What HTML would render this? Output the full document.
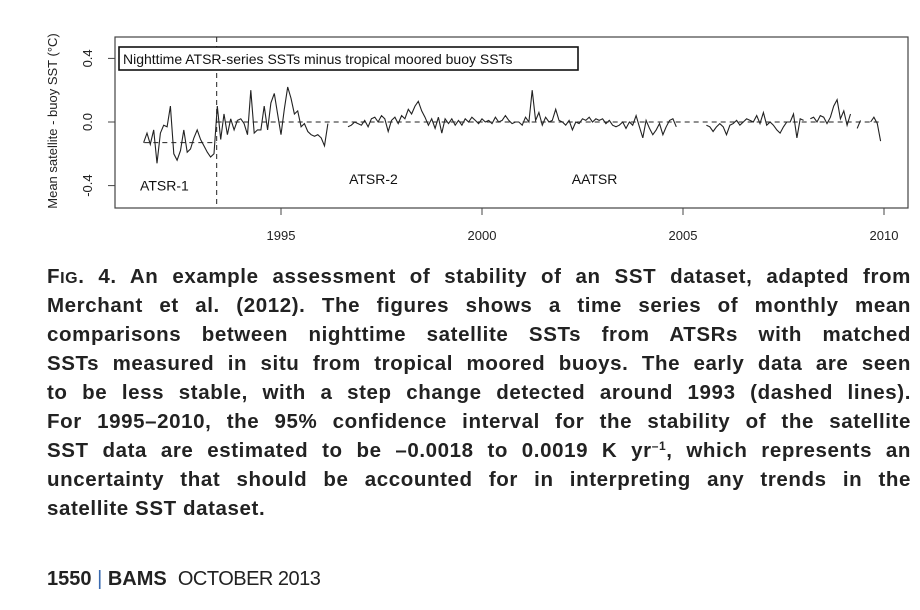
<!DOCTYPE html>
<html><head><meta charset="utf-8">
<style>
body{margin:0;background:#fff;width:920px;height:610px;overflow:hidden;position:relative;font-family:"Liberation Sans",sans-serif}
#chart{position:absolute;left:0;top:0}
.cap{position:absolute;left:47px;width:864px;font-weight:bold;font-size:20.5px;letter-spacing:0.6px;color:#222;line-height:29px}
.cap div{text-align:justify;text-align-last:justify;white-space:nowrap;height:29px}
.cap div.last{text-align-last:left}
.sc{font-size:16px}
sup{font-size:12px;line-height:0;vertical-align:7px}
.foot{position:absolute;left:47px;top:568px;font-size:20px;color:#222;white-space:nowrap}
</style></head><body>
<svg id="chart" width="920" height="260" xmlns="http://www.w3.org/2000/svg"></svg>
<div class="cap" style="top:262px">
<div>F<span class="sc">IG</span>. 4. An example assessment of stability of an SST dataset, adapted from</div>
<div>Merchant et al. (2012). The figures shows a time series of monthly mean</div>
<div>comparisons between nighttime satellite SSTs from ATSRs with matched</div>
<div>SSTs measured in situ from tropical moored buoys. The early data are seen</div>
<div>to be less stable, with a step change detected around 1993 (dashed lines).</div>
<div>For 1995–2010, the 95% confidence interval for the stability of the satellite</div>
<div>SST data are estimated to be –0.0018 to 0.0019 K yr<sup>–1</sup>, which represents an</div>
<div>uncertainty that should be accounted for in interpreting any trends in the</div>
<div class="last">satellite SST dataset.</div>
</div>
<div class="foot"><b style="font-family:'Liberation Sans Narrow','Liberation Sans',sans-serif">1550</b> <span style="color:#3a6ab0">|</span> <b style="font-family:'Liberation Sans Narrow','Liberation Sans',sans-serif">BAMS</b> &nbsp;<span style="font-weight:300;letter-spacing:-0.5px">OCTOBER 2013</span></div>
<script>
const startYear = 1991.583;
const values = [
-0.13,-0.07,-0.14,-0.05,-0.26,-0.07,-0.02,-0.03,0.10,-0.20,-0.24,-0.18,-0.05,-0.19,-0.17,-0.10,-0.05,-0.11,-0.15,-0.19,-0.22,-0.20,
0.10,-0.11,0.05,-0.08,0.02,-0.05,0.01,0.02,-0.01,-0.08,0.20,-0.07,-0.05,-0.05,0.10,-0.05,0.12,0.18,0.05,-0.08,0.08,0.22,0.15,0.05,0.07,-0.03,-0.01,-0.06,-0.08,-0.09,-0.08,-0.10,-0.15,-0.01,
null,null,null,null,null,
-0.03,-0.02,0.00,-0.01,
-0.02,0.01,-0.03,0.02,0.03,0.00,0.04,0.02,-0.06,0.01,0.03,-0.01,
0.04,0.02,0.08,0.05,0.10,0.13,0.07,0.03,-0.02,0.02,-0.04,0.03,
-0.07,0.02,-0.01,0.02,-0.02,0.01,-0.02,0.02,0.00,0.03,0.01,-0.01,
0.02,0.00,0.01,-0.01,0.03,0.00,0.01,0.04,0.01,-0.01,0.00,0.00,
-0.02,0.03,0.00,0.20,0.01,0.06,-0.02,0.03,0.00,0.01,0.08,0.01,
0.00,-0.02,0.01,-0.05,0.00,-0.01,0.02,0.01,0.03,0.00,0.02,0.01,
0.02,-0.01,0.01,-0.02,-0.03,-0.02,0.00,-0.04,0.00,-0.02,0.04,-0.03,
-0.10,0.01,-0.04,-0.08,-0.05,-0.01,-0.08,-0.03,0.01,0.02,-0.03,null,
null,null,null,null,null,null,null,-0.02,-0.03,-0.06,-0.03,-0.01,
-0.03,-0.08,-0.02,-0.01,0.01,-0.02,0.00,0.02,0.01,0.00,0.04,-0.01,
0.06,-0.02,0.00,-0.02,-0.05,-0.07,-0.03,0.00,0.00,0.05,-0.10,0.02,
0.01,null,0.02,0.03,0.00,0.04,0.03,-0.01,0.03,0.10,0.14,0.02,
0.07,-0.02,0.05,null,-0.04,0.01,null,null,0.00,0.03,-0.01,-0.12
];
const xTicks = [1995,2000,2005,2010];
const yTicks = [-0.4,0.0,0.4];
const refSegments = [[1991.6,1993.4,-0.13],[1993.4,2009.9,0.0]];
const stepYear = 1993.4;
const regionLabels = [["ATSR-1",1992.1,-0.43],["ATSR-2",1997.3,-0.39],["AATSR",2002.8,-0.39]];

const X = y => 281 + (y-1995)*40.2;
const Y = v => 122 - v*159;
const svg = document.getElementById('chart');
const NS = 'http://www.w3.org/2000/svg';
function mk(tag, attrs){const e=document.createElementNS(NS,tag);for(const k in attrs)e.setAttribute(k,attrs[k]);svg.appendChild(e);return e;}

let e = mk('rect',{x:115,y:37,width:793,height:171,fill:'none',stroke:'#444','stroke-width':1.2});


xTicks.forEach(t=>{
  let l = mk('line',{x1:X(t),x2:X(t),y1:208,y2:215,stroke:'#444'});
  
  
  let tx = mk('text',{x:X(t),y:240,'text-anchor':'middle','font-size':13,fill:'#222'});
  tx.textContent=t;
  
  
});
yTicks.forEach(t=>{
  let l = mk('line',{x1:108,x2:115,y1:Y(t),y2:Y(t),stroke:'#444'});
  
  
  let tx = mk('text',{x:0,y:0,'text-anchor':'middle','font-size':13,fill:'#222',transform:`translate(92,${Y(t)}) rotate(-90)`});
  tx.textContent=t.toFixed(1);
  
  
});
e = mk('text',{x:0,y:0,'text-anchor':'middle','font-size':13,fill:'#222',transform:'translate(57,121) rotate(-90)'});
e.textContent='Mean satellite - buoy SST (°C)';



e = mk('line',{x1:X(stepYear),x2:X(stepYear),y1:37,y2:208,stroke:'#222','stroke-dasharray':'5,4'});


refSegments.forEach(s=>{
  let l = mk('line',{x1:X(s[0]),x2:X(s[1]),y1:Y(s[2]),y2:Y(s[2]),stroke:'#222','stroke-dasharray':'5,4'});
  
  
});

let d='',pen=false;
values.forEach((v,i)=>{
  if(v===null){pen=false;return;}
  const x=X(startYear+i/12), y=Y(v);
  d += (pen?'L':'M')+x.toFixed(1)+','+y.toFixed(1);
  pen=true;
});
e = mk('path',{d:d,fill:'none',stroke:'#222','stroke-width':1.1});



e = mk('rect',{x:119,y:47,width:459,height:23,fill:'#fff',stroke:'#111','stroke-width':1.6});


e = mk('text',{x:123,y:64,'font-size':14,fill:'#111'});
e.textContent='Nighttime ATSR-series SSTs minus tropical moored buoy SSTs';



regionLabels.forEach(r=>{
  let t = mk('text',{x:X(r[1]),y:Y(r[2]),'text-anchor':'middle','font-size':14,fill:'#111'});
  t.textContent=r[0];
  
  
});
</script>
</body></html>
